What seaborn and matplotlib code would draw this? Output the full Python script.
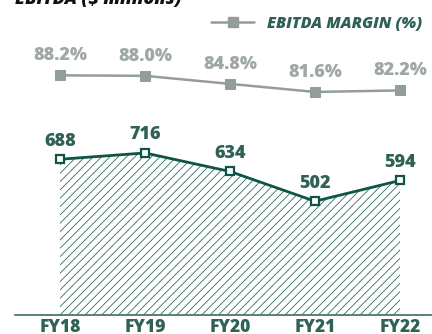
import matplotlib
matplotlib.use("Agg")
import matplotlib.pyplot as plt
from matplotlib.lines import Line2D
import seaborn as sns
import pandas as pd

years = ["FY18", "FY19", "FY20", "FY21", "FY22"]
ebitda = [688, 716, 634, 502, 594]
margin = [88.2, 88.0, 84.8, 81.6, 82.2]
margin_labels = ["88.2%", "88.0%", "84.8%", "81.6%", "82.2%"]
title_text = "EBITDA ($ millions)"
legend_text = "EBITDA MARGIN (%)"

GREEN = "#0e5547"
GREEN_TXT = "#2f6156"
GREY = "#939d9a"
GREY_TXT = "#a0a8a6"

sns.set_theme(style="white")
plt.rcParams["font.family"] = ["Open Sans", "DejaVu Sans"]
plt.rcParams["hatch.linewidth"] = 0.55

df = pd.DataFrame({"x": range(len(years)), "year": years,
                   "ebitda": ebitda, "margin": margin})

W, H = 432, 334
fig = plt.figure(figsize=(W / 100, H / 100), dpi=100)
ax = fig.add_axes([15 / W, (H - 314.5) / H, 417 / W, 314.5 / H])
ax.set_xlim(-45 / 85, (432 - 60) / 85)
ax.set_ylim(0, 1394)

# hatched area under the EBITDA line
ax.fill_between(df["x"], 0, df["ebitda"], facecolor="none",
                edgecolor="#1f5f52", hatch="////", linewidth=0, zorder=1)
sns.lineplot(data=df, x="x", y="ebitda", ax=ax, color=GREEN, linewidth=2.0,
             marker="s", markersize=6, markerfacecolor="white",
             markeredgecolor=GREEN, markeredgewidth=1.6, zorder=3)
for xi, v in zip(df["x"], ebitda):
    ax.annotate(f"{v}", (xi, v), xytext=(0, 13), textcoords="offset points",
                ha="center", va="center", fontsize=13, fontweight="heavy",
                color=GREEN_TXT)

# margin line on its own scale
ax2 = ax.twinx()
ax2.set_ylim(-6.86, 118.14)
sns.lineplot(data=df, x="x", y="margin", ax=ax2, color=GREY, linewidth=1.8,
             marker="s", markersize=6.5, markerfacecolor=GREY,
             markeredgecolor=GREY, zorder=3)
for xi, v, t in zip(df["x"], margin, margin_labels):
    ax2.annotate(t, (xi, v), xytext=(0, 14), textcoords="offset points",
                 ha="center", va="center", fontsize=13, fontweight="heavy",
                 color=GREY_TXT)

for a in (ax, ax2):
    a.set_xlabel("")
    a.set_ylabel("")
    a.set_yticks([])
    for s in ("top", "left", "right"):
        a.spines[s].set_visible(False)
ax2.spines["bottom"].set_visible(False)
ax.spines["bottom"].set_color("#3f6b62")
ax.spines["bottom"].set_linewidth(1.2)
ax.set_xticks(df["x"])
ax.set_xticklabels(years, fontsize=12.5, fontweight="heavy", color=GREEN_TXT)
ax.tick_params(axis="x", length=0, pad=3)

fig.text(15 / W, 1 - 4 / H, title_text, ha="left", va="baseline",
         fontsize=13, fontweight="heavy", fontstyle="italic", color="#111111")

handle = Line2D([], [], color=GREY, linewidth=1.8, marker="s",
                markersize=6.5, markerfacecolor=GREY, markeredgecolor=GREY)
leg = fig.legend([handle], [legend_text], loc="center right",
                 bbox_to_anchor=(422 / W, 1 - 24 / H), frameon=False,
                 borderpad=0, borderaxespad=0, handlelength=2.7,
                 handletextpad=0.8, labelcolor=GREEN_TXT,
                 prop={"size": 11.5, "weight": "heavy", "style": "italic"})

fig.savefig("out.png", dpi=100)
